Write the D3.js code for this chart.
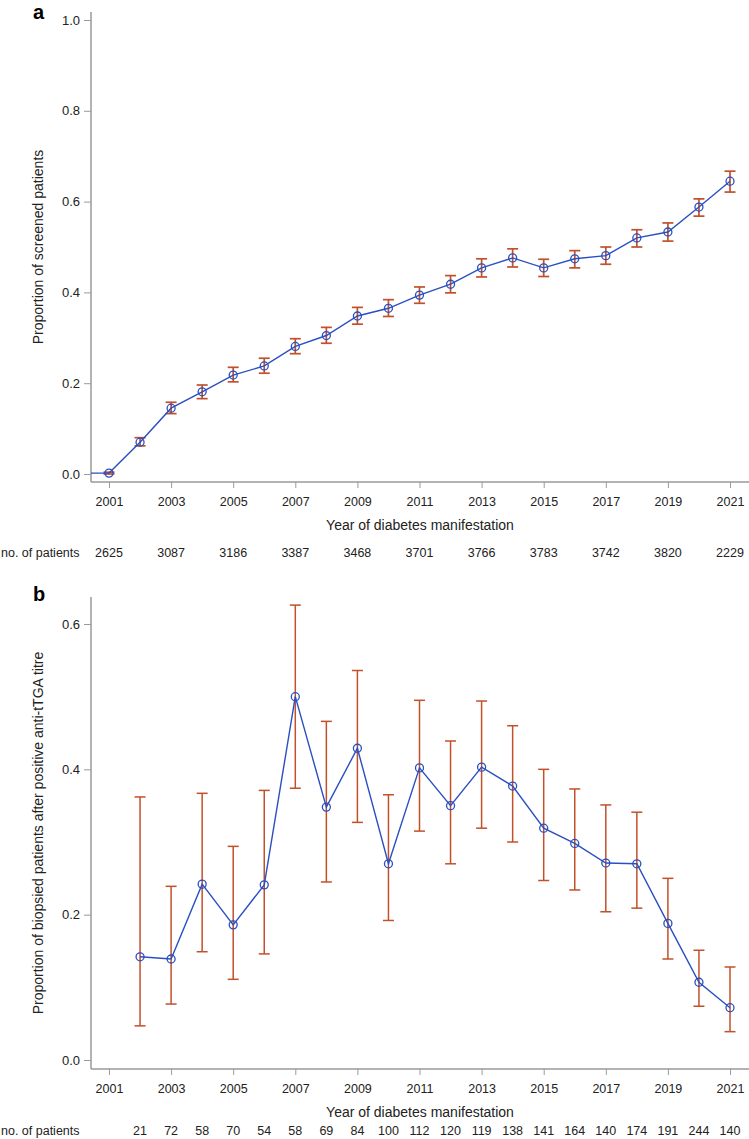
<!DOCTYPE html>
<html>
<head>
<meta charset="utf-8">
<script src="https://cdn.jsdelivr.net/npm/d3@7"></script>
<style>
  body { margin: 0; background: #fff; }
  svg { display: block; font-family: "Liberation Sans", Arial, sans-serif; }
  .tick text { fill: #222; }
</style>
</head>
<body>
<div id="chart"></div>
<script>
// panel a: proportion of screened patients
const yearsA = [2000, 2001, 2002, 2003, 2004, 2005, 2006, 2007, 2008, 2009, 2010,
    2011, 2012, 2013, 2014, 2015, 2016, 2017, 2018, 2019, 2020, 2021];
const propA = [0.002, 0.002, 0.070, 0.145, 0.181, 0.218, 0.238, 0.281, 0.305, 0.348, 0.365,
    0.394, 0.418, 0.454, 0.476, 0.454, 0.474, 0.481, 0.520, 0.533, 0.588, 0.645];
const lowA = [0.000, 0.000, 0.062, 0.133, 0.166, 0.203, 0.222, 0.265, 0.288, 0.330, 0.347,
    0.376, 0.399, 0.434, 0.456, 0.435, 0.454, 0.462, 0.500, 0.513, 0.568, 0.621];
const highA = [0.004, 0.004, 0.080, 0.158, 0.196, 0.235, 0.255, 0.298, 0.323, 0.367, 0.384,
    0.412, 0.437, 0.474, 0.496, 0.473, 0.492, 0.500, 0.538, 0.553, 0.606, 0.667];
const countYearsA = [2001, 2003, 2005, 2007, 2009, 2011, 2013, 2015, 2017, 2019, 2021];
const countsA = [2625, 3087, 3186, 3387, 3468, 3701, 3766, 3783, 3742, 3820, 2229];
const yTicksA = [0, 0.2, 0.4, 0.6, 0.8, 1.0];

// panel b: proportion biopsied after positive anti-tTGA
const yearsB = [2002, 2003, 2004, 2005, 2006, 2007, 2008, 2009, 2010, 2011,
    2012, 2013, 2014, 2015, 2016, 2017, 2018, 2019, 2020, 2021];
const propB = [0.142, 0.139, 0.242, 0.186, 0.241, 0.500, 0.348, 0.429, 0.270, 0.402,
    0.350, 0.403, 0.377, 0.319, 0.298, 0.271, 0.270, 0.188, 0.107, 0.072];
const lowB = [0.047, 0.077, 0.149, 0.111, 0.146, 0.374, 0.245, 0.327, 0.192, 0.315,
    0.270, 0.319, 0.300, 0.247, 0.234, 0.204, 0.209, 0.139, 0.074, 0.039];
const highB = [0.362, 0.239, 0.367, 0.294, 0.371, 0.626, 0.466, 0.536, 0.365, 0.495,
    0.439, 0.494, 0.460, 0.400, 0.373, 0.351, 0.341, 0.250, 0.151, 0.128];
const countsB = [21, 72, 58, 70, 54, 58, 69, 84, 100, 112,
    120, 119, 138, 141, 164, 140, 174, 191, 244, 140];
const yTicksB = [0, 0.2, 0.4, 0.6];

const xTicks = [2001, 2003, 2005, 2007, 2009, 2011, 2013, 2015, 2017, 2019, 2021];

const W = 749, H = 1139;
const blue = '#2a4fc1', red = '#c2502a', axisGray = '#9a9a9a';

const svg = d3.select('#chart').append('svg')
    .attr('width', W)
    .attr('height', H);

const x = d3.scaleLinear().domain([2001, 2021]).range([109, 730]);

function drawPanel(opt) {
    const g = svg.append('g');
    const left = 91, right = 749;
    const y = d3.scaleLinear().domain(opt.yDomain).range(opt.yRange);

    // clip to the plotting area
    const clipId = 'clip-' + opt.label;
    svg.append('clipPath').attr('id', clipId)
        .append('rect')
        .attr('x', left).attr('y', opt.top)
        .attr('width', right - left).attr('height', opt.bottom - opt.top);

    // y axis
    const yAxis = g.append('g')
        .attr('transform', `translate(${left},0)`)
        .call(d3.axisLeft(y).tickValues(opt.yTicks).tickFormat(d3.format('.1f'))
            .tickSize(7).tickPadding(4).tickSizeOuter(0));
    yAxis.select('.domain').remove();
    yAxis.selectAll('.tick line').attr('stroke', axisGray);
    yAxis.selectAll('.tick text').attr('font-size', 13).attr('font-family', null);
    g.append('line')
        .attr('x1', left).attr('x2', left)
        .attr('y1', opt.top).attr('y2', opt.bottom)
        .attr('stroke', axisGray).attr('stroke-width', 1.5);

    // x axis
    const xAxis = g.append('g')
        .attr('transform', `translate(0,${opt.bottom})`)
        .call(d3.axisBottom(x).tickValues(xTicks).tickFormat(d3.format('d'))
            .tickSize(6).tickPadding(9).tickSizeOuter(0));
    xAxis.select('.domain').remove();
    xAxis.selectAll('.tick line').attr('stroke', axisGray);
    xAxis.selectAll('.tick text').attr('font-size', 12.5).attr('font-family', null);
    g.append('line')
        .attr('x1', left).attr('x2', right)
        .attr('y1', opt.bottom).attr('y2', opt.bottom)
        .attr('stroke', axisGray).attr('stroke-width', 1.5);

    // titles
    g.append('text')
        .attr('x', (left + right) / 2)
        .attr('y', opt.bottom + 48)
        .attr('text-anchor', 'middle')
        .attr('font-size', 14)
        .attr('fill', '#222')
        .text('Year of diabetes manifestation');

    g.append('text')
        .attr('transform', `translate(43,${(opt.top + opt.bottom) / 2}) rotate(-90)`)
        .attr('text-anchor', 'middle')
        .attr('font-size', 14)
        .attr('fill', '#222')
        .text(opt.yTitle);

    g.append('text')
        .attr('x', 33)
        .attr('y', opt.top + opt.labelDy)
        .attr('font-size', 20)
        .attr('font-weight', 'bold')
        .text(opt.label);

    // patient counts
    g.append('text')
        .attr('x', 1)
        .attr('y', opt.countY)
        .attr('font-size', 12.5)
        .attr('fill', '#222')
        .text('no. of patients');
    g.selectAll('.count')
        .data(opt.countYears)
        .join('text')
        .attr('x', d => x(d))
        .attr('y', opt.countY)
        .attr('text-anchor', 'middle')
        .attr('font-size', 12.5)
        .attr('fill', '#222')
        .text((d, i) => opt.counts[i]);

    // data
    const data = opt.years.map((yr, i) => ({
        year: yr, p: opt.prop[i], lo: opt.low[i], hi: opt.high[i]
    }));
    const plot = g.append('g').attr('clip-path', `url(#${clipId})`);

    const bars = plot.selectAll('.err')
        .data(data)
        .join('g')
        .attr('stroke', red)
        .attr('stroke-width', opt.errWidth)
        .attr('fill', 'none');
    bars.append('line')
        .attr('x1', d => x(d.year)).attr('x2', d => x(d.year))
        .attr('y1', d => y(d.lo)).attr('y2', d => y(d.hi));
    bars.append('line')
        .attr('x1', d => x(d.year) - 5.5).attr('x2', d => x(d.year) + 5.5)
        .attr('y1', d => y(d.lo)).attr('y2', d => y(d.lo));
    bars.append('line')
        .attr('x1', d => x(d.year) - 5.5).attr('x2', d => x(d.year) + 5.5)
        .attr('y1', d => y(d.hi)).attr('y2', d => y(d.hi));

    const line = d3.line().x(d => x(d.year)).y(d => y(d.p));
    plot.append('path')
        .datum(data)
        .attr('d', line)
        .attr('fill', 'none')
        .attr('stroke', blue)
        .attr('stroke-width', 1.4);

    plot.selectAll('.pt')
        .data(data)
        .join('circle')
        .attr('cx', d => x(d.year))
        .attr('cy', d => y(d.p))
        .attr('r', 4)
        .attr('fill', 'none')
        .attr('stroke', blue)
        .attr('stroke-width', 1.3);
}

drawPanel({
    label: 'a', labelDy: 7,
    top: 12, bottom: 482,
    yDomain: [0, 1], yRange: [474, 20], yTicks: yTicksA,
    yTitle: 'Proportion of screened patients',
    years: yearsA, prop: propA, low: lowA, high: highA,
    countYears: countYearsA, counts: countsA, countY: 557,
    errWidth: 1.7
});

drawPanel({
    label: 'b', labelDy: 4,
    top: 597, bottom: 1069,
    yDomain: [0, 0.6], yRange: [1060, 624], yTicks: yTicksB,
    yTitle: 'Proportion of biopsied patients after positive anti-tTGA titre',
    years: yearsB, prop: propB, low: lowB, high: highB,
    countYears: yearsB, counts: countsB, countY: 1135,
    errWidth: 1.5
});
</script>
</body>
</html>
